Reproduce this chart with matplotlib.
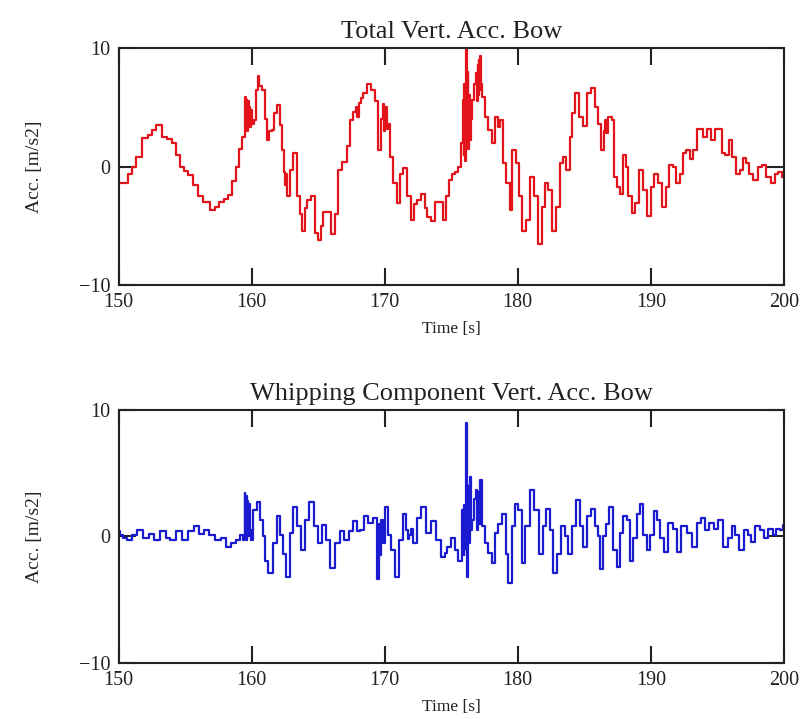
import numpy as np
import matplotlib
matplotlib.use("Agg")
import matplotlib.pyplot as plt

plt.rcParams['font.family'] = ['Liberation Serif', 'DejaVu Serif']

# total vertical acceleration at the bow (time [s], acc [m/s2])
t_total = [
    150.0, 150.6, 150.9, 151.2, 151.5, 152.0, 152.4, 152.7, 153.0, 153.5,
    153.8, 154.2, 154.5, 154.75, 155.1, 155.4, 155.8, 156.1, 156.6, 157.1,
    157.4, 157.75, 158.1, 158.4, 158.7, 158.9, 159.2, 159.4, 159.55, 159.6,
    159.65, 159.7, 159.75, 159.8, 159.85, 159.9, 160.0, 160.1, 160.25, 160.4,
    160.5, 160.6, 160.9, 161.1, 161.25, 161.4, 161.6, 161.8, 162.0, 162.2,
    162.4, 162.5, 162.55, 162.6, 162.75, 163.0, 163.26, 163.5, 163.7, 163.9,
    164.1, 164.3, 164.6, 164.9, 165.1, 165.3, 165.5, 165.9, 166.1, 166.4,
    166.6, 167.0, 167.3, 167.5, 167.75, 167.9, 168.0, 168.1, 168.3, 168.5,
    168.8, 169.1, 169.4, 169.65, 169.8, 169.9, 170.0, 170.1, 170.2, 170.3,
    170.5, 170.8, 171.0, 171.25, 171.5, 171.8, 172.1, 172.3, 172.5, 172.9,
    173.1, 173.3, 173.65, 173.9, 174.3, 174.5, 174.7, 174.9, 175.15, 175.4,
    175.65, 175.85, 175.9, 175.95, 176.0, 176.05, 176.1, 176.15, 176.2, 176.25,
    176.3, 176.35, 176.4, 176.5, 176.65, 176.8, 176.9, 176.95, 177.0, 177.05,
    177.1, 177.15, 177.2, 177.3, 177.4, 177.65, 177.9, 178.2, 178.4, 178.6,
    178.8, 179.0, 179.3, 179.5, 179.7, 180.0, 180.2, 180.5, 180.8, 181.1,
    181.35, 181.7, 181.9, 182.2, 182.4, 182.8, 183.0, 183.3, 183.5, 183.8,
    184.0, 184.2, 184.4, 184.8, 185.05, 185.3, 185.65, 185.9, 186.1, 186.4,
    186.5, 186.6, 186.7, 186.8, 187.0, 187.1, 187.3, 187.55, 187.8, 188.0,
    188.2, 188.4, 188.7, 188.9, 189.3, 189.55, 189.9, 190.1, 190.4, 190.7,
    191.05, 191.3, 191.5, 191.8, 192.05, 192.3, 192.55, 192.8, 193.05, 193.3,
    193.7, 194.1, 194.4, 194.7, 194.9, 195.2, 195.45, 195.7, 196.0, 196.2,
    196.55, 196.8, 197.0, 197.3, 197.5, 197.9, 198.2, 198.55, 198.8, 199.2,
    199.45, 199.7, 200.0,
]
acc_total = [
    -1.4, -1.4, -0.6, 0.0, 0.8, 2.4, 2.65, 3.1, 3.5, 2.5,
    2.3, 2.0, 1.0, 0.0, -0.4, -0.7, -1.6, -2.5, -3.0, -3.7,
    -3.4, -3.0, -2.7, -2.4, -1.2, 0.0, 1.5, 2.5, 5.9, 3.2,
    5.6, 3.0, 5.5, 3.5, 5.0, 3.3, 4.8, 3.6, 3.9, 6.5,
    7.6, 6.8, 6.5, 4.0, 2.2, 3.0, 3.1, 4.5, 5.2, 3.5,
    1.4, -0.5, -1.6, -0.6, -2.5, -0.3, 1.1, -2.5, -4.0, -5.4,
    -3.5, -2.8, -2.5, -5.6, -6.2, -5.0, -3.8, -3.8, -5.7, -4.0,
    -0.3, 0.4, 1.7, 3.9, 4.6, 5.0, 4.2, 5.4, 5.75, 6.2,
    7.0, 6.5, 5.5, 1.4, 4.0, 5.3, 3.0, 5.0, 3.2, 3.6,
    0.8, -1.4, -3.1, -0.6, -0.1, -2.5, -4.5, -3.2, -2.8, -2.3,
    -3.5, -4.3, -4.6, -3.0, -3.0, -4.5, -2.5, -1.1, -0.6, -0.5,
    0.0, 2.0, 5.6, 1.0, 7.0, 0.5, 6.5, 10.1, 2.0, 8.0,
    1.5, 6.0, 2.2, 4.0, 5.6, 7.0, 7.9, 5.5, 8.6, 6.0,
    9.0, 6.5, 9.3, 7.0, 5.9, 4.2, 3.1, 2.0, 4.2, 3.3,
    3.9, 0.3, -1.4, -3.7, 1.4, 0.3, -2.5, -5.4, -4.5, -0.9,
    -2.5, -6.5, -3.4, -1.4, -2.0, -5.4, -3.4, 0.3, 0.8, -0.3,
    2.5, 4.5, 6.2, 4.2, 3.4, 6.2, 6.6, 5.0, 3.6, 1.4,
    3.0, 3.9, 2.8, 4.2, 4.2, 3.9, -0.9, -1.7, -2.3, 1.0,
    0.0, -2.5, -3.95, -3.1, -0.3, -2.0, -4.2, -1.7, -0.6, -1.4,
    -3.4, -1.7, 0.1, 0.0, -1.4, -0.6, 1.1, 1.4, 0.6, 1.4,
    3.2, 2.5, 3.2, 2.2, 3.2, 3.2, 1.1, 1.0, 2.2, 0.8,
    -0.6, -0.3, 0.7, 0.3, -0.6, -1.1, 0.0, 0.1, -0.9, -1.4,
    -0.6, -0.5, -0.9,
]

# whipping component
t_whip = [
    150.0, 150.2, 150.4, 150.9, 151.2, 151.6, 152.1, 152.5, 152.9, 153.4,
    153.7, 154.1, 154.6, 155.0, 155.5, 155.9, 156.25, 156.6, 157.0, 157.5,
    157.9, 158.25, 158.6, 159.0, 159.25, 159.45, 159.5, 159.55, 159.6, 159.65,
    159.7, 159.75, 159.8, 159.9, 160.0, 160.25, 160.5, 160.75, 160.9, 161.1,
    161.4, 161.75, 162.0, 162.25, 162.4, 162.7, 163.0, 163.26, 163.5, 163.9,
    164.15, 164.5, 164.9, 165.1, 165.5, 165.75, 166.1, 166.5, 166.8, 167.1,
    167.5, 167.8, 168.0, 168.35, 168.6, 168.9, 169.3, 169.5, 169.6, 169.7,
    169.8, 169.9, 170.1, 170.4, 170.6, 170.9, 171.25, 171.5, 171.7, 171.8,
    171.9, 172.0, 172.3, 172.5, 172.9, 173.3, 173.65, 174.0, 174.4, 174.6,
    174.8, 175.15, 175.4, 175.65, 175.9, 175.95, 176.0, 176.05, 176.1, 176.15,
    176.2, 176.25, 176.3, 176.35, 176.4, 176.5, 176.65, 176.8, 176.9, 176.95,
    177.05, 177.1, 177.2, 177.4, 177.65, 177.9, 178.2, 178.4, 178.7, 179.0,
    179.2, 179.4, 179.7, 179.9, 180.2, 180.4, 180.75, 181.1, 181.4, 181.75,
    182.0, 182.3, 182.5, 182.8, 183.1, 183.4, 183.7, 183.9, 184.2, 184.5,
    184.8, 185.05, 185.35, 185.65, 185.9, 186.1, 186.3, 186.55, 186.75, 187.0,
    187.3, 187.55, 187.8, 188.05, 188.3, 188.55, 188.8, 189.05, 189.3, 189.55,
    189.8, 190.05, 190.4, 190.6, 190.85, 191.15, 191.5, 191.8, 192.1, 192.5,
    192.9, 193.3, 193.7, 193.9, 194.2, 194.6, 194.9, 195.2, 195.6, 195.95,
    196.2, 196.5, 196.8, 197.2, 197.4, 197.7, 198.0, 198.35, 198.65, 199.0,
    199.3, 199.55, 199.8, 200.0,
]
acc_whip = [
    0.4, 0.1, -0.15, -0.3, 0.1, 0.5, -0.15, 0.2, -0.3, 0.4,
    -0.15, -0.3, 0.4, -0.3, 0.4, 0.8, 0.2, 0.5, 0.1, -0.3,
    -0.15, -0.8, -0.5, -0.3, 0.1, -0.3, 3.4, 0.2, 3.2, -0.3,
    2.8, 0.0, 2.6, 0.5, -0.3, 2.1, 2.75, 1.3, 0.0, -1.9,
    -2.9, -0.5, 1.6, 0.1, -1.4, -3.2, 0.3, 2.35, 0.8, -1.05,
    1.3, 2.75, 0.8, -0.5, 0.9, -0.3, -2.5, -0.5, 0.4, -0.3,
    0.4, 1.2, 0.4, 0.5, 1.6, 1.05, 1.45, -3.4, 1.0, -1.5,
    1.3, -0.5, 2.35, 0.1, -1.05, -3.2, -0.3, 1.8, 0.5, -0.2,
    0.1, 0.6, -0.5, 1.45, 2.35, 0.3, 1.2, -0.3, -1.6, -1.3,
    -0.8, -0.1, -1.1, -1.9, 2.1, -1.5, 2.5, -1.0, 3.0, 8.95,
    -3.2, 2.0, 4.0, -0.5, 4.7, 0.5, 1.3, 3.0, 3.7, 0.5,
    3.5, 1.0, 4.5, 0.8, -0.5, -1.3, -2.1, 0.25, 1.0, 1.8,
    -1.4, -3.7, 0.8, 2.6, 2.1, -2.1, 0.8, 3.7, 2.1, -1.4,
    0.8, 2.2, 0.5, -2.9, -1.4, 0.8, 0.0, -1.4, 0.8, 2.9,
    0.8, -0.8, 1.6, 2.2, 0.8, 0.0, -2.6, 0.0, 1.0, 2.35,
    -1.1, -2.4, 0.3, 1.6, 1.3, -1.9, -0.15, 1.8, 2.6, 0.1,
    -1.1, 0.1, 2.0, 1.3, -0.15, -1.2, 1.1, 0.6, -1.2, 0.8,
    0.3, -0.8, 1.1, 1.45, 0.5, 1.1, 0.6, 1.3, -0.8, -0.15,
    0.8, 0.1, -1.1, 0.5, 0.1, -0.4, 0.8, 0.5, -0.15, 0.6,
    0.1, 0.6, 0.5, 0.9,
]

titles = ["Total Vert. Acc. Bow", "Whipping Component Vert. Acc. Bow"]
xticks = [150, 160, 170, 180, 190, 200]
yticks = [-10, 0, 10]

fig = plt.figure(figsize=(8.09, 7.19), dpi=100)
ax1 = fig.add_axes([0.1465, 0.6036, 0.8225, 0.3296])
ax2 = fig.add_axes([0.1465, 0.0779, 0.8225, 0.3519])

series = [(ax1, t_total, acc_total, "#e3131b"),
          (ax2, t_whip, acc_whip, "#1a1ad0")]

for i, (ax, t, a, c) in enumerate(series):
    # sampled signal, drawn as a held (stepped) trace
    ax.plot(t, a, color=c, lw=1.6, drawstyle="steps-mid")
    ax.set_xlim(150, 200)
    ax.set_ylim(-10, 10)
    ax.set_xticks(xticks)
    ax.set_yticks(yticks)
    ax.tick_params(direction="in", length=12, width=1.5, top=True, right=True,
                   labelsize=14.5, pad=6, colors="#222222")
    for s in ax.spines.values():
        s.set_linewidth(1.5)
        s.set_color("#222222")
    ax.set_title(titles[i], fontsize=19, pad=7, color="#222222")
    ax.set_xlabel("Time [s]", fontsize=12.5, labelpad=6, color="#222222")
    ax.set_ylabel("Acc. [m/s2]", fontsize=14, labelpad=26, color="#222222")

fig.savefig("out.png", dpi=100)
